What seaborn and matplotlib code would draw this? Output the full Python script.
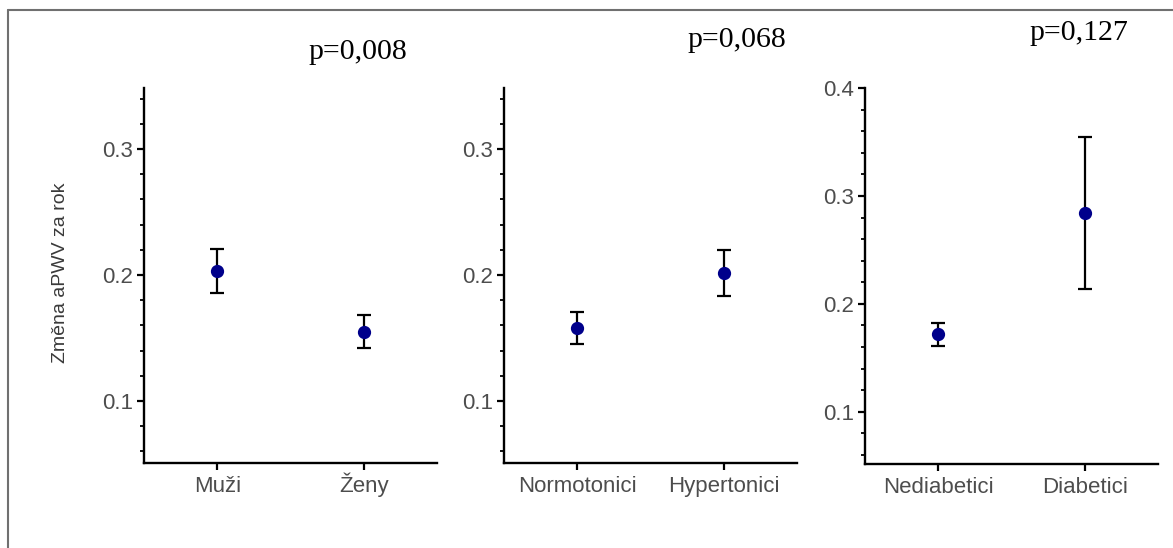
import matplotlib
matplotlib.use("Agg")
import matplotlib.pyplot as plt
from matplotlib.lines import Line2D
from matplotlib.ticker import FixedLocator, MultipleLocator
import numpy as np
import seaborn as sns

# Mean yearly change of aPWV with confidence limits, per group
sex_groups = ["Muži", "Ženy"]
sex_mean = [0.203, 0.155]
sex_low = [0.1855, 0.142]
sex_high = [0.221, 0.168]

bp_groups = ["Normotonici", "Hypertonici"]
bp_mean = [0.158, 0.2013]
bp_low = [0.1455, 0.1837]
bp_high = [0.1704, 0.220]

dm_groups = ["Nediabetici", "Diabetici"]
dm_mean = [0.1716, 0.2846]
dm_low = [0.1614, 0.2142]
dm_high = [0.1827, 0.355]

p_values = ["p=0,008", "p=0,068", "p=0,127"]
y_title = "Změna aPWV za rok"

sns.set_theme(style="ticks")
plt.rcParams["font.family"] = ["Liberation Sans", "DejaVu Sans"]

W, H = 1173, 548
fig = plt.figure(figsize=(W / 100, H / 100), dpi=100)
fig.patch.set_facecolor("white")

TEXT_GREY = "#4d4d4d"
POINT_COLOR = "#00008B"


def px_axes(x0, x1, ytop, ybot):
    return fig.add_axes([x0 / W, 1 - ybot / H, (x1 - x0) / W, (ybot - ytop) / H])


panels = [
    (px_axes(144, 437, 88, 463), sex_groups, sex_mean, sex_low, sex_high,
     (0.0508, 0.3484), [0.1, 0.2, 0.3]),
    (px_axes(504, 797, 88, 463), bp_groups, bp_mean, bp_low, bp_high,
     (0.0508, 0.3484), [0.1, 0.2, 0.3]),
    (px_axes(865, 1158, 88, 464), dm_groups, dm_mean, dm_low, dm_high,
     (0.0516, 0.400), [0.1, 0.2, 0.3, 0.4]),
]

for i, (ax, groups, mean, low, high, ylim, majors) in enumerate(panels):
    mean_a = np.array(mean)
    yerr = [mean_a - np.array(low), np.array(high) - mean_a]
    ax.errorbar(np.arange(len(groups)), mean_a, yerr=yerr, fmt="none",
                ecolor="black", elinewidth=1.6, capsize=4.8, capthick=1.6,
                zorder=2)
    sns.pointplot(x=groups, y=mean, linestyle="none", color=POINT_COLOR,
                  markers="o", errorbar=None, markersize=7.5, ax=ax)
    for coll in ax.lines:
        if coll.get_marker() == "o":
            coll.set_zorder(4)
    ax.set_xlim(-0.5, len(groups) - 0.5)
    ax.set_ylim(*ylim)
    ax.yaxis.set_major_locator(FixedLocator(majors))
    ax.yaxis.set_minor_locator(MultipleLocator(0.02))
    ax.set_yticklabels([f"{v:.1f}" for v in majors])

    for side in ("top", "right"):
        ax.spines[side].set_visible(False)
    for side in ("left", "bottom"):
        ax.spines[side].set_linewidth(1.7)
        ax.spines[side].set_color("black")

    ax.tick_params(axis="y", which="major", length=5, width=1.6,
                   color="black", labelsize=16, labelcolor=TEXT_GREY, pad=3)
    ax.tick_params(axis="x", which="major", length=5, width=1.6,
                   color="black", labelsize=16, labelcolor=TEXT_GREY, pad=15.8)
    ax.tick_params(axis="y", which="minor", length=3, width=1.3, color="black")
    ax.tick_params(axis="x", which="minor", length=0)
    # keep category names on one shared baseline
    for lbl in ax.get_xticklabels():
        lbl.set_verticalalignment("baseline")
    ax.set_xlabel("")
    ax.set_ylabel("")
    ax.set_facecolor("white")

# Shared y-axis title on the first panel
ax0 = panels[0][0]
ax0.set_ylabel(y_title, fontsize=14, color="#3a3a3a")
ax0.yaxis.set_label_coords(-0.255, 0.507)

# Significance annotations
for (px, py), txt in zip([(358, 52), (737, 40), (1079, 33)], p_values):
    fig.text(px / W, 1 - py / H, txt, ha="center", va="center",
             family="Liberation Serif", fontsize=21.5, color="black")

# Frame lines along the top and left edges
frame_color = "#707070"
fig.add_artist(Line2D([8 / W, 8 / W], [0, 1 - 10 / H], transform=fig.transFigure,
                      color=frame_color, lw=1.5))
fig.add_artist(Line2D([8 / W, 1], [1 - 10 / H, 1 - 10 / H], transform=fig.transFigure,
                      color=frame_color, lw=1.5))

fig.savefig("out.png", dpi=100, facecolor="white")
